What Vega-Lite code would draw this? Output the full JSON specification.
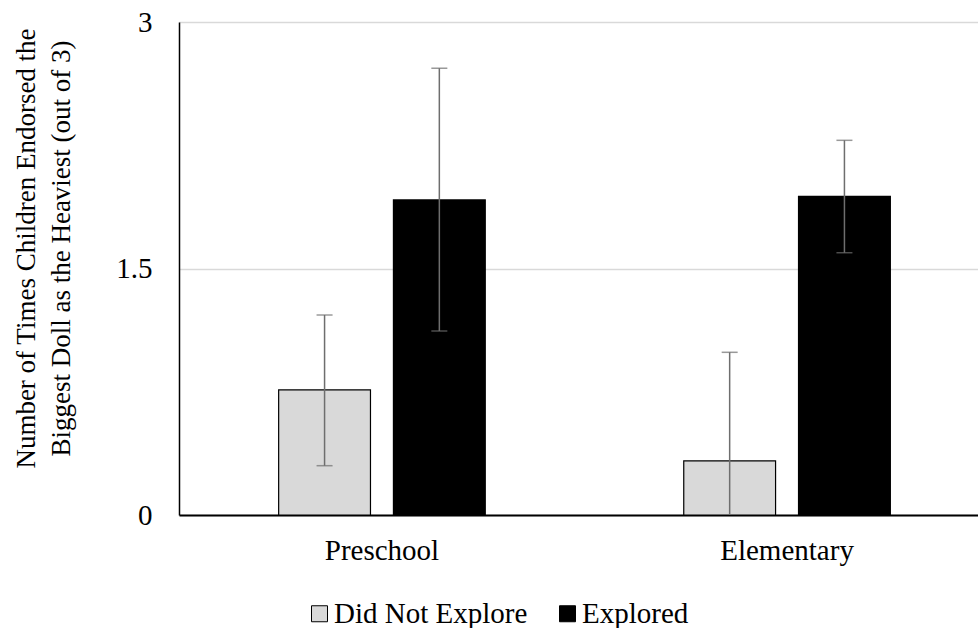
{
  "$schema": "https://vega.github.io/schema/vega-lite/v6.json",
  "width": 799,
  "height": 493,
  "autosize": {"type": "none"},
  "padding": {"left": 179, "top": 22, "right": 0, "bottom": 113},
  "background": "white",
  "config": {
    "view": {"stroke": null}
  },
  "data": {
    "values": [
      {"group": "Preschool", "condition": "Did Not Explore", "mean": 0.761, "lo": 0.300, "hi": 1.217},
      {"group": "Preschool", "condition": "Explored", "mean": 1.917, "lo": 1.120, "hi": 2.718},
      {"group": "Elementary", "condition": "Did Not Explore", "mean": 0.329, "lo": -0.33, "hi": 0.990},
      {"group": "Elementary", "condition": "Explored", "mean": 1.939, "lo": 1.596, "hi": 2.280}
    ]
  },
  "encoding": {
    "x": {
      "field": "group",
      "type": "nominal",
      "sort": ["Preschool", "Elementary"],
      "scale": {"range": [0, 811], "paddingInner": 0.49, "paddingOuter": 0.246},
      "axis": {"title": null, "labelAngle": 0, "ticks": false, "domainColor": "black", "domainWidth": 2, "labelFont": "Liberation Serif", "labelFontSize": 29, "labelColor": "black", "labelPadding": 21, "grid": false}
    },
    "xOffset": {
      "field": "condition",
      "type": "nominal",
      "sort": ["Did Not Explore", "Explored"],
      "scale": {"paddingInner": 0.2, "paddingOuter": 0}
    }
  },
  "layer": [
    {
      "mark": {"type": "bar", "stroke": "black", "strokeWidth": 1.2},
      "encoding": {
        "y": {
          "field": "mean",
          "type": "quantitative",
          "scale": {"domain": [0, 3], "nice": false},
          "axis": {
            "values": [0, 1.5, 3],
            "format": "~g",
            "grid": true,
            "gridColor": "#d9d9d9",
            "gridWidth": 1.5,
            "domainColor": "black",
            "domainWidth": 1.5,
            "ticks": false,
            "labelFont": "Liberation Serif",
            "labelColor": "black",
            "labelFontSize": 29,
            "labelPadding": 27,
            "title": ["Number of Times Children Endorsed the", "Biggest Doll as the Heaviest (out of 3)"],
            "titleFont": "Liberation Serif",
            "titleColor": "black",
            "titleFontSize": 27,
            "titleFontWeight": "normal",
            "titleLineHeight": 35,
            "titleBaseline": "middle",
            "titleX": -153,
            "titleY": 226
          }
        },
        "fill": {
          "field": "condition",
          "type": "nominal",
          "sort": ["Did Not Explore", "Explored"],
          "scale": {"domain": ["Did Not Explore", "Explored"], "range": ["#d9d9d9", "#000000"]},
          "legend": {
            "title": null,
            "orient": "none",
            "direction": "horizontal",
            "legendX": 126,
            "legendY": 577,
            "symbolType": "square",
            "symbolSize": 256,
            "symbolStrokeColor": "black",
            "symbolStrokeWidth": 1,
            "labelFont": "Liberation Serif",
            "labelColor": "black",
            "labelFontSize": 29,
            "labelLimit": 400,
            "labelOffset": 0,
            "columnPadding": 25
          }
        }
      }
    },
    {
      "mark": {"type": "rule", "color": "#6e6e6e", "strokeWidth": 1.5, "clip": true},
      "encoding": {
        "y": {"field": "lo", "type": "quantitative"},
        "y2": {"field": "hi"}
      }
    },
    {
      "mark": {"type": "tick", "color": "#6e6e6e", "thickness": 1.5, "size": 16, "clip": true},
      "encoding": {
        "y": {"field": "hi", "type": "quantitative"}
      }
    },
    {
      "mark": {"type": "tick", "color": "#6e6e6e", "thickness": 1.5, "size": 16, "clip": true},
      "encoding": {
        "y": {"field": "lo", "type": "quantitative"}
      }
    }
  ]
}
